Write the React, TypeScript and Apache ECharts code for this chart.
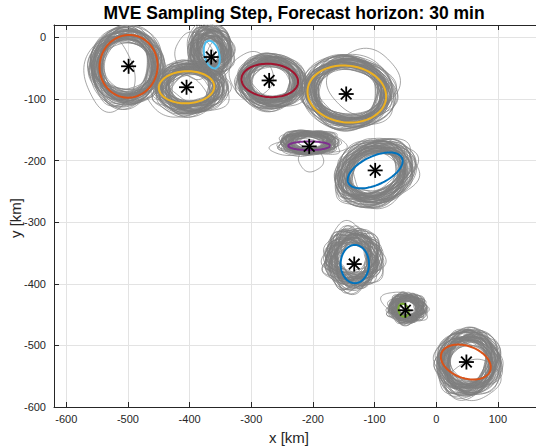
import React, { useEffect, useRef } from 'react';
import * as echarts from 'echarts';

const titleText = 'MVE Sampling Step, Forecast horizon: 30 min';
const xName = 'x [km]';
const yName = 'y [km]';
const xRange = [-620, 170];
const yRange = [-600, 20];
const tickStep = 100;

// asterisk markers (cluster centres)
const centers: number[][] = [
  [-499, -47], [-405, -81], [-365, -32], [-271, -70], [-146, -92],
  [-206, -177], [-99, -216], [-133, -368], [-50, -443], [49, -527],
];

const colors = ['#D95319', '#EDB120', '#4DBEEE', '#A2142F', '#EDB120', '#7E2F8E', '#0072BD', '#0072BD', '#77AC30', '#D95319'];

// coloured MVE ellipses: cx, cy, rx, ry, angle(deg)
const meanEllipses: number[][] = [
  [-499, -47, 47, 51, -8],
  [-405, -81, 45, 26, 2],
  [-364, -28, 12, 23, 15],
  [-270, -70, 46, 27, -4],
  [-145, -92, 64, 46, -7],
  [-206, -176, 34, 7, 0],
  [-99, -216, 48, 23, 25],
  [-132, -368, 23, 31, 0],
  [-53, -443, 8, 11, 20],
  [48, -527, 42, 26, -20],
];

// sampled ellipse families: cx, cy, rx, ry, angle, offsetSpread, scaleSpread, wobble
const sampleBases: number[][] = [
  [-503, -47, 47, 51, -8, 0.8, 1.0, 0.03],
  [-399, -82, 45, 32, 2, 1.5, 1.0, 0.04],
  [-366, -22, 25, 30, 10, 2.3, 1.0, 0.06],
  [-268, -72, 43, 34, -4, 1.2, 1.0, 0.03],
  [-143, -89, 60, 47, -6, 0.5, 1.0, 0.03],
  [-207, -171, 36, 14, 0, 1.5, 1.0, 0.05],
  [-100, -220, 52, 40, 25, 1.2, 1.0, 0.04],
  [-135, -360, 34, 36, 0, 1.8, 1.0, 0.1],
  [-47, -440, 22, 17, 0, 2.0, 1.0, 0.12],
  [52, -528, 40, 42, -20, 1.3, 1.0, 0.05],
];

// per-sample deviations: dx, dy, sx, sy, dAngle, lobes, phase
const sampleJitter: number[][] = [
  [0.05, -0.08, 0.92, 1.05, 4, 3, 0.4],
  [-0.10, 0.04, 1.08, 0.95, -6, 4, 2.1],
  [0.12, 0.10, 0.85, 0.90, 8, 5, 1.3],
  [-0.04, -0.12, 1.15, 1.10, -3, 3, 4.0],
  [0.08, 0.02, 1.00, 1.20, 10, 4, 5.2],
  [-0.14, -0.06, 0.95, 0.85, -9, 5, 0.9],
  [0.02, 0.14, 1.22, 1.02, 2, 3, 3.3],
  [0.15, -0.03, 1.05, 0.88, -12, 4, 1.7],
  [-0.08, 0.09, 0.82, 1.12, 6, 5, 2.8],
  [0.00, -0.02, 1.30, 1.25, 0, 3, 5.9],
  [0.10, -0.14, 0.90, 1.00, 14, 4, 0.2],
  [-0.12, 0.12, 1.10, 1.18, -5, 5, 3.7],
  [0.06, 0.06, 0.88, 0.80, 3, 3, 1.1],
  [-0.02, -0.09, 1.02, 0.92, -15, 4, 4.6],
  [0.13, 0.08, 1.18, 1.08, 7, 5, 2.4],
  [-0.15, -0.01, 0.86, 1.02, -2, 3, 5.5],
  [0.04, -0.16, 1.12, 0.96, 11, 4, 0.7],
  [-0.06, 0.16, 0.94, 1.14, -8, 5, 3.0],
  [0.09, -0.07, 1.25, 1.15, 5, 3, 1.9],
  [-0.11, 0.00, 1.00, 0.88, -11, 4, 4.3],
  [0.01, 0.05, 0.80, 0.95, 9, 5, 5.0],
  [0.16, 0.12, 0.98, 1.06, -4, 3, 2.6],
  [-0.09, -0.15, 1.06, 1.22, 13, 4, 0.5],
  [0.07, 0.11, 1.14, 0.84, -7, 5, 3.9],
  [-0.05, -0.04, 0.90, 0.90, 1, 3, 1.5],
  [0.11, 0.01, 0.84, 1.10, -13, 4, 4.8],
  [-0.13, 0.07, 1.20, 1.00, 6, 5, 2.2],
  [0.03, -0.11, 0.96, 1.28, -1, 3, 5.7],
  [-0.01, 0.13, 1.28, 0.98, 12, 4, 0.1],
  [0.14, -0.10, 1.04, 1.04, -10, 5, 3.4],
];

// individual outlying sampled ellipses: cx, cy, rx, ry, angle
const extraSamples: number[][] = [
  [-203, -199, 20, 19, 0],
  [-228, -178, 42, 13, 4],
  [-185, -172, 40, 15, -6],
  [-378, -18, 24, 40, 12],
  [-352, -34, 20, 36, -8],
  [-392, -30, 30, 38, 20],
  [-118, -72, 58, 52, 10],
  [-300, -62, 35, 38, 0],
  [62, -556, 42, 32, 10],
  [-140, -340, 28, 42, 15],
  [-60, -430, 30, 16, -10],
  [-530, -60, 40, 60, 5],
  [-420, -95, 50, 34, -5],
];

function ellipsePts(cx: number, cy: number, rx: number, ry: number, angDeg: number, wob = 0, lobes = 0, phase = 0, n = 80) {
  const a = (angDeg * Math.PI) / 180;
  const ca = Math.cos(a);
  const sa = Math.sin(a);
  const pts: number[][] = [];
  for (let i = 0; i <= n; i++) {
    const t = (i / n) * 2 * Math.PI;
    const f = 1 + wob * Math.cos(lobes * t + phase);
    const ex = rx * f * Math.cos(t);
    const ey = ry * f * Math.sin(t);
    pts.push([cx + ex * ca - ey * sa, cy + ex * sa + ey * ca]);
  }
  return pts;
}

function buildGray() {
  const out: number[][] = [];
  const add = (pts: number[][]) => {
    out.push(...pts);
    out.push([NaN, NaN]);
  };
  sampleBases.forEach((b) => {
    const [cx, cy, rx, ry, ang, sp, ss, wob] = b;
    sampleJitter.forEach((j) => {
      const [dx, dy, sx, sy, da, lobes, phase] = j;
      add(ellipsePts(cx + dx * sp * rx, cy + dy * sp * ry, rx * (1 + (sx - 1) * ss), ry * (1 + (sy - 1) * ss), ang + da, wob, lobes, phase));
      add(ellipsePts(cx - dy * sp * rx, cy + dx * sp * ry, rx * (1 + (sy - 1) * ss), ry * (1 + (sx - 1) * ss), ang - da, wob, lobes + 1, phase + 1.6));
    });
  });
  extraSamples.forEach((e) => add(ellipsePts(e[0], e[1], e[2], e[3], e[4], 0.04, 4, 1)));
  return out;
}

const axisColor = '#262626';
const fontFamily = '"Liberation Sans", Arial, Helvetica, sans-serif';

export default function App() {
  const ref = useRef<HTMLDivElement>(null);
  useEffect(() => {
    document.body.style.margin = '0';
    if (!ref.current) return;
    const chart = echarts.init(ref.current, undefined, { renderer: 'svg' });
    const fmt = (v: number) => (Math.abs(v % tickStep) < 1e-6 ? String(v) : '');
    const baseX = {
      type: 'value' as const,
      min: xRange[0],
      max: xRange[1],
      minInterval: tickStep,
      maxInterval: tickStep,
      splitNumber: 8,
    };
    const baseY = {
      type: 'value' as const,
      min: yRange[0],
      max: yRange[1],
      minInterval: tickStep,
      maxInterval: tickStep,
      splitNumber: 6,
    };
    const tick = { show: true, inside: true, length: 5, lineStyle: { color: axisColor } };
    const line = { show: true, onZero: false, lineStyle: { color: axisColor, width: 1 } };
    const series: any[] = [
      {
        type: 'line',
        data: buildGray(),
        showSymbol: false,
        symbol: 'none',
        silent: true,
        connectNulls: false,
        clip: true,
        lineStyle: { color: '#808080', width: 0.7 },
        z: 2,
      },
    ];
    meanEllipses.forEach((e, i) => {
      series.push({
        type: 'line',
        data: ellipsePts(e[0], e[1], e[2], e[3], e[4], 0, 0, 0, 100),
        showSymbol: false,
        symbol: 'none',
        silent: true,
        clip: true,
        lineStyle: { color: colors[i], width: 2 },
        z: 3,
      });
    });
    series.push({
      type: 'custom',
      data: centers,
      silent: true,
      z: 4,
      renderItem: (params: any, api: any) => {
        const p = api.coord([api.value(0), api.value(1)]);
        const r = 7.5;
        const d = r * 0.7071;
        const st = { stroke: '#000', lineWidth: 1.8 };
        return {
          type: 'group',
          children: [
            { type: 'line', shape: { x1: p[0] - r, y1: p[1], x2: p[0] + r, y2: p[1] }, style: st },
            { type: 'line', shape: { x1: p[0], y1: p[1] - r, x2: p[0], y2: p[1] + r }, style: st },
            { type: 'line', shape: { x1: p[0] - d, y1: p[1] - d, x2: p[0] + d, y2: p[1] + d }, style: st },
            { type: 'line', shape: { x1: p[0] - d, y1: p[1] + d, x2: p[0] + d, y2: p[1] - d }, style: st },
          ],
        };
      },
    });
    chart.setOption({
      animation: false,
      backgroundColor: '#ffffff',
      grid: { left: 54, top: 25, width: 487, height: 382, containLabel: false, outerBoundsMode: 'none' },
      graphic: [
        {
          type: 'text',
          x: 294,
          y: 13,
          style: { text: titleText, fill: '#000', font: `bold 17.5px ${fontFamily}`, align: 'center', verticalAlign: 'middle' },
        },
        {
          type: 'text',
          x: 289,
          y: 437,
          style: { text: xName, fill: axisColor, font: `15px ${fontFamily}`, align: 'center', verticalAlign: 'middle' },
        },
        {
          type: 'text',
          x: 15,
          y: 218,
          rotation: Math.PI / 2,
          style: { text: yName, fill: axisColor, font: `15px ${fontFamily}`, align: 'center', verticalAlign: 'middle' },
        },
      ],
      xAxis: [
        {
          ...baseX,
          position: 'bottom',
          axisLine: line,
          axisTick: tick,
          axisLabel: { show: true, formatter: fmt, color: axisColor, fontSize: 11, fontFamily, margin: 6 },
          splitLine: { show: true, lineStyle: { color: '#e3e3e3', width: 1 } },
        },
        {
          ...baseX,
          position: 'top',
          axisLine: line,
          axisTick: tick,
          axisLabel: { show: false },
          splitLine: { show: false },
        },
      ],
      yAxis: [
        {
          ...baseY,
          position: 'left',
          axisLine: line,
          axisTick: tick,
          axisLabel: { show: true, formatter: fmt, color: axisColor, fontSize: 11, fontFamily, margin: 8 },
          splitLine: { show: true, lineStyle: { color: '#e3e3e3', width: 1 } },
        },
        {
          ...baseY,
          position: 'right',
          axisLine: line,
          axisTick: tick,
          axisLabel: { show: false },
          splitLine: { show: false },
        },
      ],
      series,
    });
    return () => chart.dispose();
  }, []);
  return <div ref={ref} style={{ width: 536, height: 448 }} />;
}
